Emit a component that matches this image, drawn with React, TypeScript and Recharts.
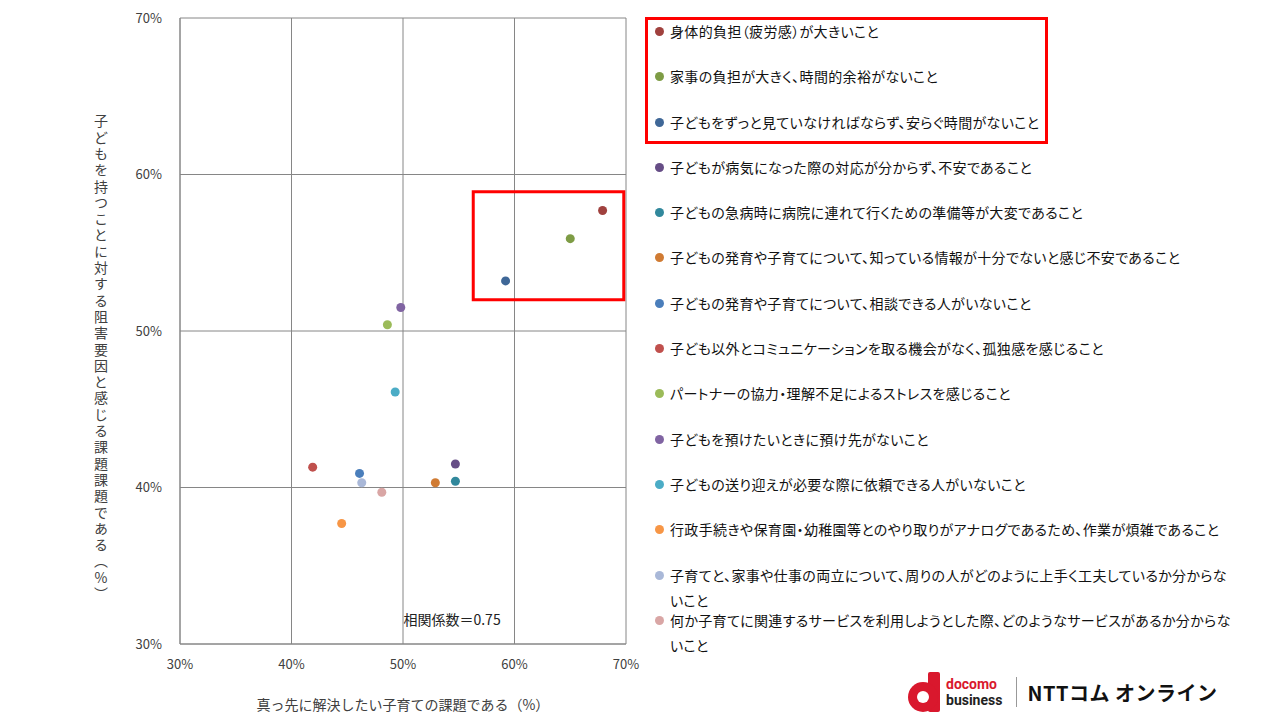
import {
  ScatterChart,
  Scatter,
  XAxis,
  YAxis,
  CartesianGrid,
  ReferenceArea,
  ReferenceDot,
} from 'recharts';

const issues = [
  '身体的負担（疲労感）が大きいこと',
  '家事の負担が大きく、時間的余裕がないこと',
  '子どもをずっと見ていなければならず、安らぐ時間がないこと',
  '子どもが病気になった際の対応が分からず、不安であること',
  '子どもの急病時に病院に連れて行くための準備等が大変であること',
  '子どもの発育や子育てについて、知っている情報が十分でないと感じ不安であること',
  '子どもの発育や子育てについて、相談できる人がいないこと',
  '子ども以外とコミュニケーションを取る機会がなく、孤独感を感じること',
  'パートナーの協力・理解不足によるストレスを感じること',
  '子どもを預けたいときに預け先がないこと',
  '子どもの送り迎えが必要な際に依頼できる人がいないこと',
  '行政手続きや保育園・幼稚園等とのやり取りがアナログであるため、作業が煩雑であること',
  '子育てと、家事や仕事の両立について、周りの人がどのように上手く工夫しているか分からないこと',
  '何か子育てに関連するサービスを利用しようとした際、どのようなサービスがあるか分からないこと',
];

// 真っ先に解決したい子育ての課題である（%）
const urgentPct = [67.9, 65.0, 59.2, 54.7, 54.7, 52.9, 46.1, 41.9, 48.6, 49.8, 49.3, 44.5, 46.3, 48.1];
// 子どもを持つことに対する阻害要因と感じる課題である（%）
const barrierPct = [57.7, 55.9, 53.2, 41.5, 40.4, 40.3, 40.9, 41.3, 50.4, 51.5, 46.1, 37.7, 40.3, 39.7];

const colors = [
  '#A0413E', '#7E9C45', '#3F6797', '#664D86', '#31889C', '#D07B33', '#4A7EBB',
  '#C0504D', '#9BBB59', '#8064A2', '#4BACC6', '#F79646', '#A9B8D8', '#D9A6A5',
];

const axisTicks = [30, 40, 50, 60, 70];

const FONT = '"Noto Sans CJK JP", "Noto Sans", sans-serif';

function Logo() {
  return (
    <div style={{ position: 'absolute', left: 906, top: 672, display: 'flex', alignItems: 'center', fontFamily: FONT }}>
      <svg width={36} height={40} viewBox="0 0 36 40">
        <rect x={22} y={0} width={12} height={40} rx={2} fill="#D9182D" />
        <circle cx={17} cy={25} r={15} fill="#D9182D" />
        <circle cx={17} cy={25} r={6} fill="#fff" />
      </svg>
      <div style={{ marginLeft: 4, fontWeight: 700, fontSize: 14, fontFamily: 'Roboto, sans-serif' }}>
        <div style={{ color: '#D9182D', lineHeight: '16px' }}>docomo</div>
        <div style={{ color: '#222', lineHeight: '16px' }}>business</div>
      </div>
      <div style={{ width: 1, height: 30, background: '#999', margin: '0 10px 0 14px' }} />
      <div style={{ fontWeight: 700, fontSize: 20, color: '#111', letterSpacing: 0.5 }}>NTTコム オンライン</div>
    </div>
  );
}

export default function App() {
  return (
    <div style={{ position: 'absolute', left: 0, top: 0, width: 1280, height: 720, background: '#fff', fontFamily: FONT }}>
      <ScatterChart width={1280} height={720} margin={{ top: 18, right: 654, bottom: 8, left: 120 }}>
        <CartesianGrid stroke="#868686" strokeWidth={1} />
        <XAxis
          type="number"
          dataKey="x"
          domain={[30, 70]}
          ticks={axisTicks}
          tickFormatter={(v) => `${v}%`}
          tickLine={false}
          axisLine={{ stroke: '#868686' }}
          tick={{ fill: '#404040', fontSize: 13, fontFamily: FONT }}
          tickMargin={10}
          height={68}
          label={{ value: '真っ先に解決したい子育ての課題である（%）', position: 'insideBottom', offset: 2, fill: '#404040', fontSize: 14, fontFamily: FONT }}
        />
        <YAxis
          type="number"
          dataKey="y"
          domain={[30, 70]}
          ticks={axisTicks}
          tickFormatter={(v) => `${v}%`}
          tickLine={false}
          axisLine={{ stroke: '#868686' }}
          tick={{ fill: '#404040', fontSize: 13, fontFamily: FONT }}
          tickMargin={12}
          width={60}
        />
        {issues.map((name, i) => (
          <Scatter
            key={name}
            name={name}
            data={[{ x: urgentPct[i], y: barrierPct[i] }]}
            fill={colors[i]}
            shape={(p: any) => <circle cx={p.cx} cy={p.cy} r={4.5} fill={colors[i]} />}
            isAnimationActive={false}
          />
        ))}
        <ReferenceArea x1={56.3} x2={69.8} y1={52.0} y2={58.9} fill="none" stroke="#FF0000" strokeWidth={3} ifOverflow="visible" />
        <ReferenceDot
          x={54.4}
          y={31.5}
          r={0}
          fill="none"
          stroke="none"
          label={{ value: '相関係数＝0.75', position: 'center', fill: '#222', fontSize: 14, fontFamily: FONT }}
        />
      </ScatterChart>

      <div
        style={{
          position: 'absolute',
          left: 91,
          top: 114,
          writingMode: 'vertical-rl',
          textOrientation: 'upright',
          fontSize: 14,
          color: '#404040',
          letterSpacing: 2.3,
        }}
      >
        子どもを持つことに対する阻害要因と感じる課題課題である（%）
      </div>

      <div style={{ position: 'absolute', left: 645, top: 17, width: 397, height: 121, border: '3px solid #FF0000' }} />

      <div style={{ position: 'absolute', left: 655, top: 19, width: 585 }}>
        {issues.map((name, i) => (
          <div key={name} style={{ display: 'flex', alignItems: 'flex-start', height: 45.3, fontSize: 14, lineHeight: '25px', color: '#111' }}>
            <span style={{ width: 9, height: 9, borderRadius: '50%', background: colors[i], marginTop: 8, marginRight: 6, flex: 'none' }} />
            <span style={{ fontFeatureSettings: '"palt"', letterSpacing: 0.35, width: 570 }}>{name}</span>
          </div>
        ))}
      </div>

      <Logo />
    </div>
  );
}
